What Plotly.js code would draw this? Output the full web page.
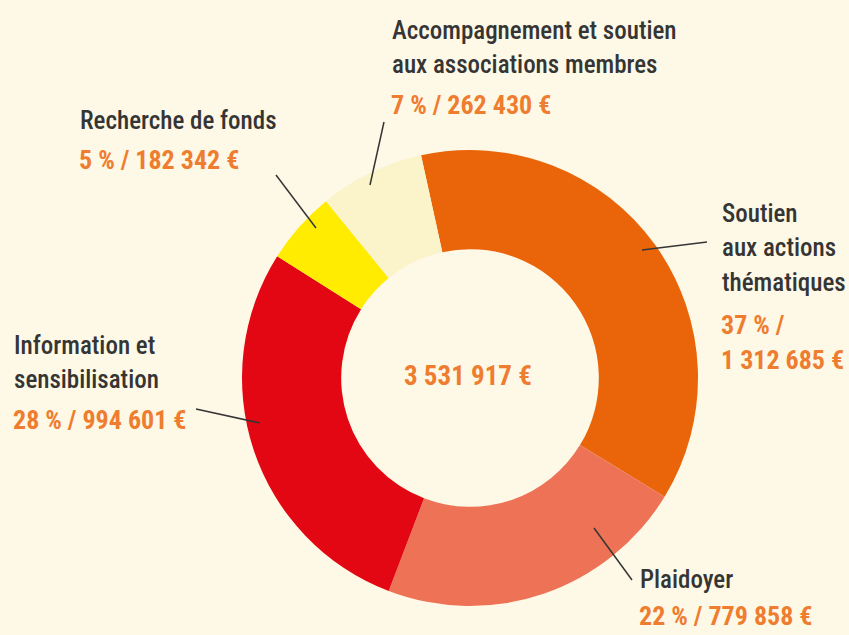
<!DOCTYPE html>
<html><head><meta charset="utf-8">
<script src="https://cdn.plot.ly/plotly-3.0.1.min.js"></script>
<style>html,body{margin:0;padding:0;background:#FEF8E7;}</style>
</head><body>
<div id="chart" style="width:849px;height:635px;"></div>
<script>
const categories = ["Soutien aux actions thématiques", "Plaidoyer", "Information et sensibilisation", "Recherche de fonds", "Accompagnement et soutien aux associations membres"];
const values = [1312685, 779858, 994601, 182342, 262430];
const percentLabels = ["37 %", "22 %", "28 %", "5 %", "7 %"];
const amountLabels = ["1 312 685 €", "779 858 €", "994 601 €", "182 342 €", "262 430 €"];
const totalLabel = "3 531 917 €";
const colors = ["#EA650A", "#EE7356", "#E30613", "#FFEC00", "#FBF3C9"];

const FONT = "'Roboto Condensed', 'Noto Sans Condensed', 'Liberation Sans Narrow', 'DejaVu Sans Condensed', sans-serif";
const GRAY = "#353534";
const ORANGE = "#EE7D2F";

const trace = {
  type: "pie",
  labels: categories,
  values: values,
  sort: false,
  direction: "clockwise",
  rotation: -12.4,
  hole: 0.565,
  marker: {colors: colors, line: {width: 0}},
  textinfo: "none",
  hoverinfo: "label+value+percent",
  domain: {x: [242/849, 698/849], y: [1-606/635, 1-150/635]},
  showlegend: false
};

function px(x){return x/849;}
function py(y){return 1-y/635;}

const blocks = [
  {i:4, lines:["Accompagnement et soutien","aux associations membres"], vals:[percentLabels[4]+" / "+amountLabels[4]], x:390, y:30, vy:105},
  {i:3, lines:["Recherche de fonds"], vals:[percentLabels[3]+" / "+amountLabels[3]], x:78, y:120, vy:160},
  {i:2, lines:["Information et","sensibilisation"], vals:[percentLabels[2]+" / "+amountLabels[2]], x:12, y:345, vy:420},
  {i:0, lines:["Soutien","aux actions","thématiques"], vals:[percentLabels[0]+" /", amountLabels[0]], x:720, y:213, vy:325},
  {i:1, lines:["Plaidoyer"], vals:[percentLabels[1]+" / "+amountLabels[1]], x:638, y:579, vy:616}
];
const STEP = 34.5;
const annotations = [];
blocks.forEach(b => {
  b.lines.forEach((t, k) => annotations.push({
    text: t, xref:"paper", yref:"paper", x: px(b.x), y: py(b.y + k*STEP),
    xanchor:"left", yanchor:"middle", showarrow:false,
    font:{family:FONT, size:25, color:GRAY, weight:500}
  }));
  b.vals.forEach((t, k) => annotations.push({
    text: "<b>"+t+"</b>", xref:"paper", yref:"paper", x: px(b.x), y: py(b.vy + k*STEP),
    xanchor:"left", yanchor:"middle", showarrow:false, borderpad:0,
    font:{family:FONT, size:26, color:ORANGE}
  }));
});
annotations.push({
  text:"<b>"+totalLabel+"</b>", xref:"paper", yref:"paper", x: px(468), y: py(376),
  xanchor:"center", yanchor:"middle", showarrow:false,
  font:{family:FONT, size:27, color:ORANGE}
});

const leaders = [[384,122,370,185],[276,175,316,228],[196,409,260,423],[707,242,642,250],[632,580,594,528]];
const shapes = leaders.map(l => ({
  type:"line", xref:"paper", yref:"paper",
  x0:px(l[0]), y0:py(l[1]), x1:px(l[2]), y1:py(l[3]),
  line:{color:GRAY, width:1.5}
}));

const layout = {
  width:849, height:635,
  margin:{l:0,r:0,t:0,b:0},
  paper_bgcolor:"#FEF8E7", plot_bgcolor:"#FEF8E7",
  annotations: annotations, shapes: shapes, showlegend:false
};
Plotly.newPlot("chart", [trace], layout, {displayModeBar:false, staticPlot:true});
</script>
</body></html>
